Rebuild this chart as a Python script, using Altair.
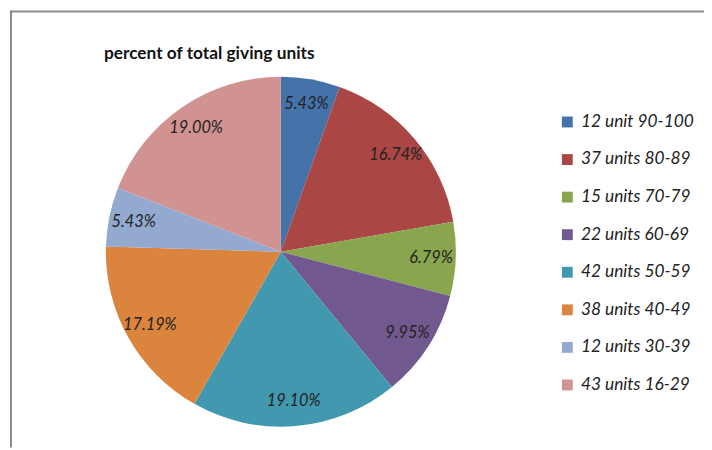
import altair as alt
import pandas as pd

categories = ["12 unit 90-100", "37 units 80-89", "15 units 70-79", "22 units 60-69",
              "42 units 50-59", "38 units 40-49", "12 units 30-39", "43 units 16-29"]
percents = [5.43, 16.74, 6.79, 9.95, 19.10, 17.19, 5.43, 19.00]
labels = ["5.43%", "16.74%", "6.79%", "9.95%", "19.10%", "17.19%", "5.43%", "19.00%"]
colors = ["#4672AA", "#AA4643", "#89A54E", "#71588F", "#4198AF", "#DB843D", "#93A9CF", "#D19392"]
title_text = "percent of total giving units"

df = pd.DataFrame({"category": categories, "percent": percents,
                   "label": labels, "order": list(range(len(categories)))})
one = pd.DataFrame({"k": [0]})

CX, CY, R = 276, 244, 177

base = alt.Chart(df).encode(
    theta=alt.Theta("percent:Q", stack=True),
    order=alt.Order("order:Q"),
    x=alt.value(CX),
    y=alt.value(CY),
)

pie = base.mark_arc(radius=R).encode(
    color=alt.Color(
        "category:N",
        sort=categories,
        scale=alt.Scale(domain=categories, range=colors),
        legend=alt.Legend(
            title=None, orient="none", legendX=557, legendY=104,
            symbolType="square", symbolSize=121, symbolStrokeWidth=0,
            labelFont="Lato", labelFontStyle="italic", labelFontSize=17.5,
            labelColor="#222", labelOffset=5, rowPadding=19, padding=0,
            labelLimit=200,
        ),
    )
)

text = base.mark_text(radius=152, font="Lato", fontStyle="italic", fontSize=16.5,
                      color="#222").encode(text="label:N")

title = alt.Chart(one).mark_text(align="left", baseline="alphabetic", font="Lato",
                                 fontWeight="bold", fontSize=17.5, color="#111").encode(
    x=alt.value(97), y=alt.value(49), text=alt.value(title_text))

top_rule = alt.Chart(one).mark_rule(color="#8a8a8a", strokeWidth=2).encode(
    x=alt.value(2), x2=alt.value(704), y=alt.value(1))
left_rule = alt.Chart(one).mark_rule(color="#8a8a8a", strokeWidth=2).encode(
    x=alt.value(3), y=alt.value(0), y2=alt.value(442))

chart = alt.layer(pie, text, title, top_rule, left_rule).properties(
    width=704, height=442, padding=0,
    autosize=alt.AutoSizeParams(type="none"),
).configure_view(stroke=None)

chart.save("out.html", embed_options={"renderer": "svg", "actions": False})
